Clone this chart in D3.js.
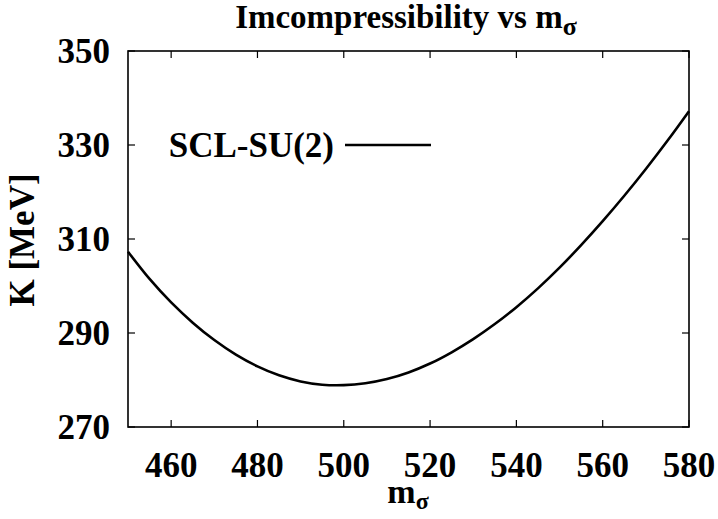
<!DOCTYPE html>
<meta charset="utf-8">
<body style="margin:0;background:#fff">
<script src="https://cdn.jsdelivr.net/npm/d3@7"></script>
<script>

var mSigma = [450,455,460,465,470,475,480,485,490,495,500,505,510,515,520,525,530,535,540,545,550,555,560,565,570,575,580]
var kVals  = [307.3,301.5,296.5,292.2,288.5,285.4,282.9,281.0,279.7,279.0,278.9,279.3,280.2,281.6,283.5,285.9,288.7,291.9,295.5,299.5,303.9,308.7,313.8,319.2,324.9,330.9,337.2]
var xTicks = [460,480,500,520,540,560,580]
var yTicks = [270,290,310,330,350]
var seriesName = 'SCL-SU(2)'

var W = 718, H = 519
var M = {l: 128, r: 689, t: 51, b: 427}
var FONT = '"Liberation Serif", "Times New Roman", serif'
var FS = 35

var svg = d3.select('body').append('svg')
    .attr('width', W).attr('height', H)
    .style('font-family', FONT).style('font-weight', 'bold')

var x = d3.scaleLinear().domain([450, 580]).range([M.l, M.r])
var y = d3.scaleLinear().domain([270, 350]).range([M.b, M.t])

// ticks, mirrored on all sides (gnuplot style, pointing inward)
var tl = 7
var g = svg.append('g').attr('stroke', '#000').attr('stroke-width', 1.2)
xTicks.forEach(v => {
  g.append('line').attr('x1', x(v)).attr('x2', x(v)).attr('y1', M.b).attr('y2', M.b - tl)
  g.append('line').attr('x1', x(v)).attr('x2', x(v)).attr('y1', M.t).attr('y2', M.t + tl)
})
yTicks.forEach(v => {
  g.append('line').attr('y1', y(v)).attr('y2', y(v)).attr('x1', M.l).attr('x2', M.l + tl)
  g.append('line').attr('y1', y(v)).attr('y2', y(v)).attr('x1', M.r).attr('x2', M.r - tl)
})

svg.append('rect')
  .attr('x', M.l).attr('y', M.t)
  .attr('width', M.r - M.l).attr('height', M.b - M.t)
  .attr('fill', 'none').attr('stroke', '#000').attr('stroke-width', 1.6)

// tick labels
svg.selectAll('.xl').data(xTicks).enter().append('text')
  .attr('x', d => x(d)).attr('y', 477)
  .attr('text-anchor', 'middle').attr('font-size', FS)
  .text(d => d)
svg.selectAll('.yl').data(yTicks).enter().append('text')
  .attr('x', 110).attr('y', d => y(d) + 12)
  .attr('text-anchor', 'end').attr('font-size', FS)
  .text(d => d)

// curve
var line = d3.line()
  .x((d, i) => x(mSigma[i]))
  .y(d => y(d))
  .curve(d3.curveCatmullRom)
svg.append('path').datum(kVals)
  .attr('d', line)
  .attr('fill', 'none').attr('stroke', '#000').attr('stroke-width', 2.6)

// legend
svg.append('text').attr('x', 334).attr('y', 157)
  .attr('text-anchor', 'end').attr('font-size', FS).text(seriesName)
svg.append('line').attr('x1', 345).attr('x2', 431).attr('y1', 145).attr('y2', 145)
  .attr('stroke', '#000').attr('stroke-width', 2.6)

// title
var t = svg.append('text').attr('x', 406).attr('y', 28)
  .attr('text-anchor', 'middle').attr('font-size', 33)
t.append('tspan').text('Imcompressibility vs m')
t.append('tspan').attr('dy', 7).attr('font-size', 26).text('σ')

// axis titles
var xt = svg.append('text').attr('x', 408).attr('y', 503)
  .attr('text-anchor', 'middle').attr('font-size', 34)
xt.append('tspan').text('m')
xt.append('tspan').attr('dy', 6).attr('font-size', 24).text('σ')

svg.append('text')
  .attr('transform', 'translate(34,240) rotate(-90)')
  .attr('text-anchor', 'middle').attr('font-size', FS)
  .text('K [MeV]')

</script>
</body>
